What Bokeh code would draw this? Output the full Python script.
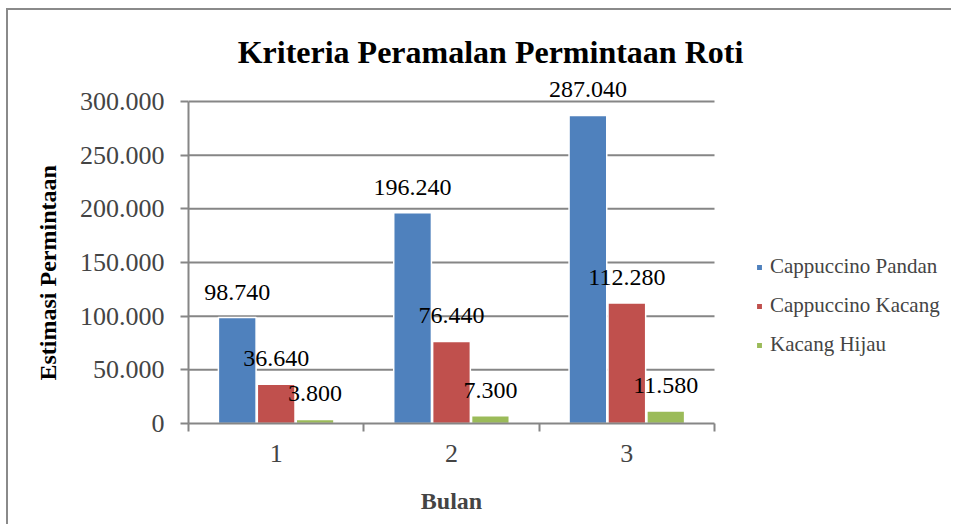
import numpy as np
from bokeh.plotting import figure
from bokeh.models import (ColumnDataSource, FixedTicker, LabelSet, Label, Legend, LegendItem,
                          Range1d, LinearAxis, Title)
from bokeh.transform import dodge
from bokeh.embed import file_html
from bokeh.resources import INLINE

months = ["1", "2", "3"]
pandan = [98740, 196240, 287040]
kacang = [36640, 76440, 112280]
hijau = [3800, 7300, 11580]
series_names = ["Cappuccino Pandan", "Cappuccino Kacang", "Kacang Hijau"]
series_colors = ["#4F81BD", "#C0504D", "#9BBB59"]
y_ticks = [0, 50000, 100000, 150000, 200000, 250000, 300000]
y_tick_labels = ["0", "50.000", "100.000", "150.000", "200.000", "250.000", "300.000"]
title_text = "Kriteria Peramalan Permintaan Roti"
x_title = "Bulan"
y_title = "Estimasi Permintaan"

FONT = "Liberation Serif"
GRID = "#868686"

# layout (pixels)
W, H = 945, 516
LEFT, BOTTOM = 180, 103
PLOT_W, PLOT_H = 526, 322          # area actually used by the bars / value axis
FRAME_W, FRAME_H = W - LEFT, H - BOTTOM


def fmt(v):
    return f"{v:,}".replace(",", ".")


n = len(months)
xc = np.arange(n) + 0.5
x_end = n * FRAME_W / PLOT_W
y_end = y_ticks[-1] * FRAME_H / PLOT_H

p = figure(width=W, height=H, x_range=Range1d(0, x_end), y_range=Range1d(0, y_end),
           output_backend="svg", toolbar_location=None,
           min_border_left=LEFT, min_border_right=0, min_border_top=0, min_border_bottom=BOTTOM,
           styles={"margin-left": "6px", "margin-top": "8px",
                   "border-left": "2px solid #8a8a8a", "border-top": "2px solid #8a8a8a"})
p.outline_line_color = None
p.background_fill_color = "white"
p.border_fill_color = "white"
p.xgrid.grid_line_color = None
p.ygrid.grid_line_color = None

# horizontal gridlines limited to the plot area
p.segment(x0=0, x1=n, y0=y_ticks[1:], y1=y_ticks[1:], line_color=GRID, line_width=2)

offsets = [-0.222, 0.0, 0.222]
items = []
for vals, name, col, off in zip([pandan, kacang, hijau], series_names, series_colors, offsets):
    src = ColumnDataSource(dict(x=xc, y=vals, lab=[fmt(v) for v in vals]))
    r = p.vbar(x=dodge("x", off), top="y", bottom=0, width=0.215, source=src,
               fill_color=col, line_color="white", line_width=1.5)
    items.append(LegendItem(label=name, renderers=[r]))
    ls = LabelSet(x=dodge("x", off), y="y", text="lab", source=src, text_align="center",
                  text_baseline="alphabetic", y_offset=18, text_font=FONT,
                  text_font_size="24px", text_color="black")
    p.add_layout(ls)

# chart title
p.add_layout(Label(x=302, y=372, x_units="screen", y_units="screen", text=title_text,
                   text_font=FONT, text_font_size="32px", text_font_style="bold",
                   text_align="center", text_baseline="alphabetic", text_color="black"))

# y axis
p.yaxis.bounds = (0, y_ticks[-1])
p.yaxis.ticker = FixedTicker(ticks=y_ticks)
p.yaxis.major_label_overrides = {t: l for t, l in zip(y_ticks, y_tick_labels)}
p.yaxis.major_label_text_font = FONT
p.yaxis.major_label_text_font_size = "26px"
p.yaxis.major_label_standoff = 16
p.yaxis.major_tick_out = 8
p.yaxis.major_tick_in = 0
p.yaxis.minor_tick_line_color = None
p.yaxis.axis_line_color = GRID
p.yaxis.axis_line_width = 2
p.yaxis.major_tick_line_color = GRID
p.yaxis.major_tick_line_width = 2

# y axis title (positioned along the value-axis span)
p.add_layout(Title(text=y_title, align="left", offset=43, standoff=32, vertical_align="bottom",
                   text_font=FONT, text_font_size="24px", text_font_style="bold",
                   text_color="black"), "left")

# x axis
p.xaxis.bounds = (0, n)
p.xaxis.ticker = FixedTicker(ticks=list(xc), minor_ticks=list(np.arange(n + 1)))
p.xaxis.major_label_overrides = {float(t): m for t, m in zip(xc, months)}
p.xaxis.major_label_text_font = FONT
p.xaxis.major_label_text_font_size = "26px"
p.xaxis.major_tick_out = 0
p.xaxis.major_tick_in = 0
p.xaxis.minor_tick_out = 8
p.xaxis.minor_tick_in = 0
p.xaxis.minor_tick_line_color = GRID
p.xaxis.minor_tick_line_width = 2
p.xaxis.major_label_standoff = 13
p.xaxis.axis_line_color = GRID
p.xaxis.axis_line_width = 2

# x axis title, centred under the categories
xt_axis = LinearAxis(ticker=FixedTicker(ticks=[n / 2], minor_ticks=[]),
                     major_label_overrides={n / 2: x_title},
                     major_label_text_font=FONT, major_label_text_font_size="24px",
                     major_label_text_font_style="bold", major_label_standoff=23,
                     axis_line_color=None, major_tick_line_color=None,
                     minor_tick_line_color=None, major_tick_out=0, major_tick_in=0)
p.add_layout(xt_axis, "below")

legend = Legend(items=items, location=(567, 66), orientation="vertical",
                label_text_font=FONT, label_text_font_size="21px",
                glyph_width=8, glyph_height=8, label_standoff=7, label_height=20,
                spacing=14, padding=0, margin=0, border_line_alpha=0,
                background_fill_alpha=0)
p.add_layout(legend, "center")

open("out.html", "w").write(file_html(p, INLINE))
